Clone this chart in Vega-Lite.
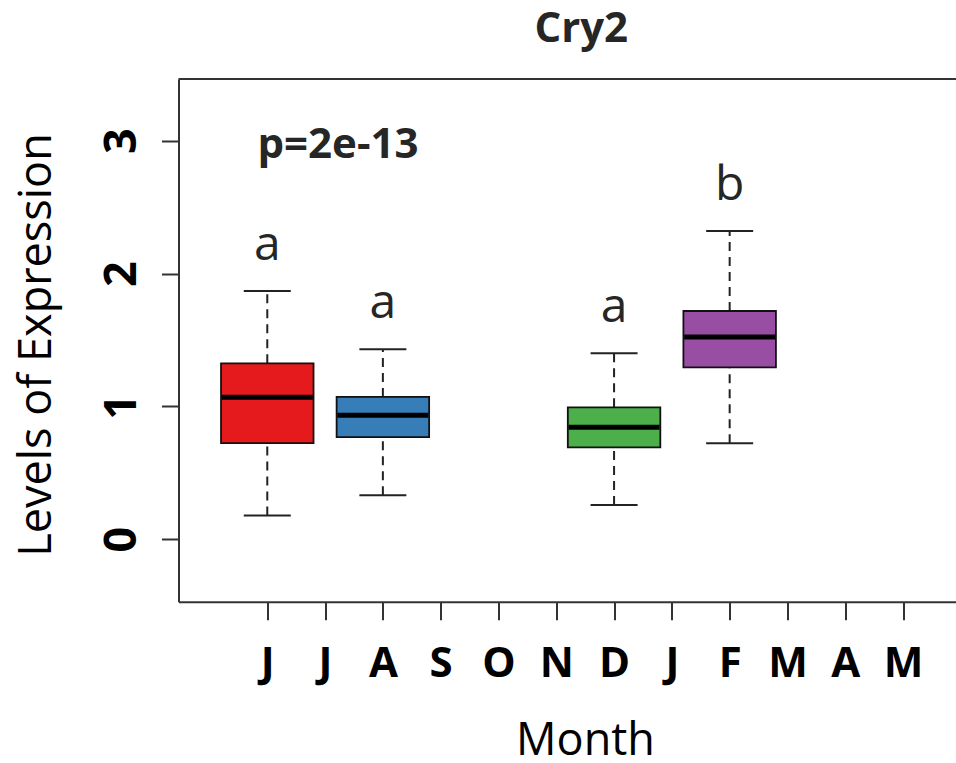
{
  "$schema": "https://vega.github.io/schema/vega-lite/v6.json",
  "width": 777.5,
  "height": 522.7,
  "autosize": {"type": "none"},
  "padding": {"left": 178.5, "top": 79, "right": 0, "bottom": 161.3},
  "background": "white",
  "config": {
    "view": {"stroke": null},
    "font": "Open Sans"
  },
  "title": {
    "text": "Cry2",
    "fontSize": 42,
    "fontWeight": "bold",
    "color": "#262626",
    "anchor": "middle",
    "frame": "group",
    "dx": 14,
    "baseline": "alphabetic",
    "offset": -6
  },
  "datasets": {
    "boxes": [
      {"month": "Jun", "pos": 1, "lo": 0.178, "q1": 0.723, "med": 1.069, "q3": 1.324, "hi": 1.869, "letter": "a"},
      {"month": "Aug", "pos": 3, "lo": 0.331, "q1": 0.768, "med": 0.933, "q3": 1.071, "hi": 1.43, "letter": "a"},
      {"month": "Dec", "pos": 7, "lo": 0.258, "q1": 0.692, "med": 0.843, "q3": 0.993, "hi": 1.40, "letter": "a"},
      {"month": "Feb", "pos": 9, "lo": 0.723, "q1": 1.294, "med": 1.523, "q3": 1.718, "hi": 2.32, "letter": "b"}
    ],
    "pval": [
      {"pos": 2.223, "val": 2.87, "label": "p=2e-13"}
    ]
  },
  "layer": [
    {
      "data": {"name": "boxes"},
      "mark": {"type": "rule", "strokeDash": [9, 6], "strokeWidth": 2, "color": "#222222"},
      "encoding": {
        "x": {
          "field": "pos",
          "type": "quantitative",
          "scale": {"domain": [-0.536, 12.916], "nice": false, "zero": false, "padding": 0},
          "axis": {
            "values": [1, 2, 3, 4, 5, 6, 7, 8, 9, 10, 11, 12],
            "labelExpr": "['J','J','A','S','O','N','D','J','F','M','A','M'][datum.value-1]",
            "title": "Month",
            "domain": true,
            "domainWidth": 2,
            "domainColor": "#333333",
            "grid": false,
            "tickSize": 18,
            "tickWidth": 2,
            "tickColor": "#333333",
            "labelFontSize": 42,
            "labelFontWeight": "bold",
            "labelColor": "black",
            "labelPadding": 24,
            "labelBaseline": "top",
            "labelFlush": false,
            "labelOverlap": false,
            "titleFontSize": 45,
            "titleFontWeight": "normal",
            "titleColor": "black",
            "titleX": 406.5,
            "titleY": 153,
            "titleAlign": "center",
            "titleBaseline": "alphabetic"
          }
        },
        "y": {
          "field": "lo",
          "type": "quantitative",
          "title": "Levels of Expression",
          "scale": {"domain": [-0.47, 3.464], "nice": false, "zero": false, "padding": 0},
          "axis": {
            "values": [0, 1, 2, 3],
            "format": "d",
            "domain": true,
            "domainWidth": 2,
            "domainColor": "#333333",
            "grid": false,
            "tickSize": 17,
            "tickWidth": 2,
            "tickColor": "#333333",
            "labelAngle": -90,
            "labelAlign": "center",
            "labelBaseline": "alphabetic",
            "labelPadding": 26.5,
            "labelFontSize": 45,
            "labelFontWeight": "bold",
            "labelColor": "black",
            "labelFlush": false,
            "titleFontSize": 45,
            "titleFontWeight": "normal",
            "titleColor": "black",
            "titleAngle": -90,
            "titleX": -142,
            "titleY": 265.5,
            "titleAlign": "center",
            "titleBaseline": "middle"
          }
        },
        "y2": {"field": "q1"}
      }
    },
    {
      "data": {"name": "boxes"},
      "mark": {"type": "rule", "strokeDash": [9, 6], "strokeWidth": 2, "color": "#222222"},
      "encoding": {
        "x": {"field": "pos", "type": "quantitative", "title": "Month"},
        "y": {"field": "q3", "type": "quantitative", "title": "Levels of Expression"},
        "y2": {"field": "hi"}
      }
    },
    {
      "data": {"name": "boxes"},
      "mark": {"type": "tick", "orient": "horizontal", "size": 47, "thickness": 2, "color": "#222222", "opacity": 1},
      "encoding": {
        "x": {"field": "pos", "type": "quantitative", "title": "Month"},
        "y": {"field": "lo", "type": "quantitative", "title": "Levels of Expression"}
      }
    },
    {
      "data": {"name": "boxes"},
      "mark": {"type": "tick", "orient": "horizontal", "size": 47, "thickness": 2, "color": "#222222", "opacity": 1},
      "encoding": {
        "x": {"field": "pos", "type": "quantitative", "title": "Month"},
        "y": {"field": "hi", "type": "quantitative", "title": "Levels of Expression"}
      }
    },
    {
      "data": {"name": "boxes"},
      "mark": {"type": "bar", "size": 92.5, "stroke": "#111111", "strokeWidth": 1.8, "opacity": 1},
      "encoding": {
        "x": {"field": "pos", "type": "quantitative", "title": "Month"},
        "y": {"field": "q1", "type": "quantitative", "title": "Levels of Expression"},
        "y2": {"field": "q3"},
        "color": {
          "field": "month",
          "type": "nominal",
          "scale": {"domain": ["Jun", "Aug", "Dec", "Feb"], "range": ["#E41A1C", "#377EB8", "#4DAF4A", "#984EA3"]},
          "legend": null
        }
      }
    },
    {
      "data": {"name": "boxes"},
      "mark": {"type": "tick", "orient": "horizontal", "size": 91, "thickness": 5, "color": "black", "opacity": 1},
      "encoding": {
        "x": {"field": "pos", "type": "quantitative", "title": "Month"},
        "y": {"field": "med", "type": "quantitative", "title": "Levels of Expression"}
      }
    },
    {
      "data": {"name": "boxes"},
      "mark": {"type": "text", "fontSize": 48, "color": "#262626", "baseline": "alphabetic", "align": "center", "dy": -31},
      "encoding": {
        "x": {"field": "pos", "type": "quantitative", "title": "Month"},
        "y": {"field": "hi", "type": "quantitative", "title": "Levels of Expression"},
        "text": {"field": "letter"}
      }
    },
    {
      "data": {"name": "pval"},
      "mark": {"type": "text", "fontSize": 42, "fontWeight": "bold", "color": "#262626", "baseline": "alphabetic", "align": "center"},
      "encoding": {
        "x": {"field": "pos", "type": "quantitative", "title": "Month"},
        "y": {"field": "val", "type": "quantitative", "title": "Levels of Expression"},
        "text": {"field": "label"}
      }
    },
    {
      "data": {"name": "pval"},
      "mark": {"type": "rule", "strokeWidth": 2, "color": "#333333"},
      "encoding": {
        "y": {"datum": 3.464, "type": "quantitative"}
      }
    }
  ]
}
